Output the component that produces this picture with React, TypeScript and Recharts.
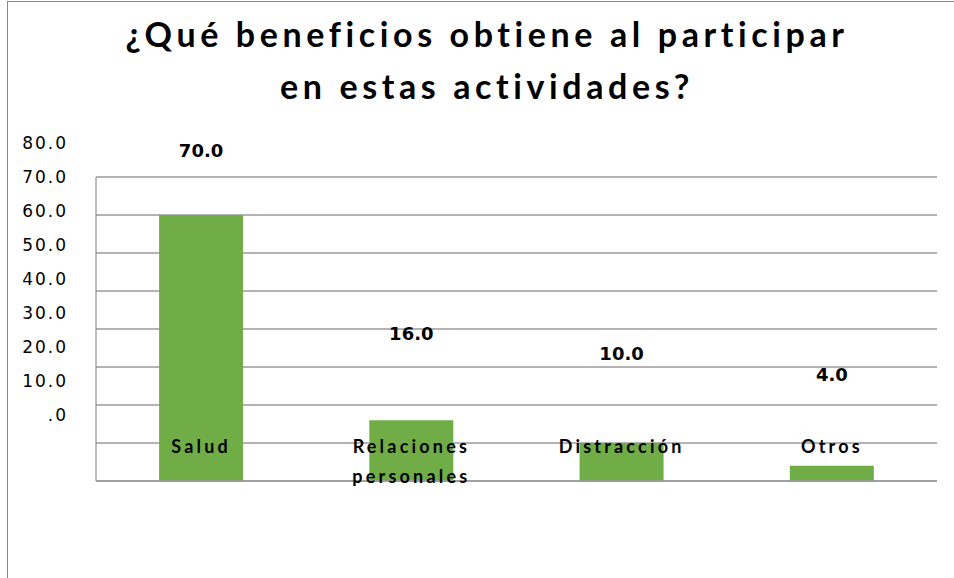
import React from "react";
import { BarChart, Bar, XAxis, YAxis, CartesianGrid, LabelList } from "recharts";

const categories = ["Salud", "Relaciones personales", "Distracción", "Otros"];
const values = [70.0, 16.0, 10.0, 4.0];
const yTicks = [0, 10, 20, 30, 40, 50, 60, 70, 80];
const titleLines = ["¿Qué beneficios obtiene al participar", "en estas actividades?"];

const data = categories.map((c, i) => ({ name: c, value: values[i] }));

const W = 954;
const H = 578;
const MARGIN = { top: 177, right: 17, bottom: 67, left: 6 };
const X_AXIS_H = 30;
const Y_AXIS_W = 90;
const PLOT_BOTTOM = H - MARGIN.bottom - X_AXIS_H;
const LABEL_SCALE = 0.894;

const fmt = (v: number) => (v === 0 ? ".0" : v.toFixed(1));

const YTick = (props: any) => {
  const { y, payload } = props;
  const ly = PLOT_BOTTOM - (PLOT_BOTTOM - y) * LABEL_SCALE - 66;
  return (
    <text
      x={68}
      y={ly}
      dy="0.355em"
      textAnchor="end"
      fontFamily="DejaVu Sans"
      fontSize={17}
      letterSpacing={2}
      fill="#000"
    >
      {fmt(payload.value)}
    </text>
  );
};

const XTick = (props: any) => {
  const { x, y, payload } = props;
  const label: string = payload.value;
  const lines = label.length > 12 ? label.split(" ") : [label];
  return (
    <g>
      {lines.map((l, i) => (
        <text
          key={i}
          x={x}
          y={y - 42 + i * 30}
          dy="0.355em"
          textAnchor="middle"
          fontFamily="Lato"
          fontWeight="bold"
          fontSize={18}
          letterSpacing={3.2}
          fill="#000"
        >
          {l}
        </text>
      ))}
    </g>
  );
};

const ValueLabel = (props: any) => {
  const { x, y, width, height, value } = props;
  const bottom = y + height;
  const ly = bottom - height * LABEL_SCALE - 93;
  return (
    <text
      x={x + width / 2}
      y={ly}
      dy="0.355em"
      textAnchor="middle"
      fontFamily="DejaVu Sans"
      fontWeight="bold"
      fontSize={18}
      fill="#000"
    >
      {Number(value).toFixed(1)}
    </text>
  );
};

export default function App() {
  return (
    <div style={{ position: "absolute", left: 0, top: 0, width: W, height: H, background: "#fff", overflow: "hidden" }}>
      <div
        style={{
          position: "absolute",
          left: 7,
          top: 1,
          width: W,
          height: H,
          borderLeft: "1.5px solid #868686",
          borderTop: "1.5px solid #868686",
        }}
      />
      <div
        style={{
          position: "absolute",
          left: 0,
          top: 8,
          width: 974,
          textAlign: "center",
          fontFamily: "Lato",
          fontWeight: "bold",
          fontSize: 34,
          lineHeight: "52px",
          letterSpacing: 4.6,
          color: "#000",
        }}
      >
        {titleLines.map((t, i) => (
          <div key={i}>{t}</div>
        ))}
      </div>
      <div style={{ position: "absolute", left: 0, top: 0 }}>
        <BarChart width={W} height={H} data={data} margin={MARGIN} barCategoryGap="30%">
          <CartesianGrid horizontal vertical={false} stroke="#9a9a9a" strokeWidth={1.3} />
          <XAxis
            dataKey="name"
            height={X_AXIS_H}
            axisLine={{ stroke: "#9a9a9a", strokeWidth: 1.3 }}
            tickLine={false}
            tick={<XTick />}
            interval={0}
          />
          <YAxis
            width={Y_AXIS_W}
            domain={[0, 80]}
            ticks={yTicks}
            axisLine={{ stroke: "#9a9a9a", strokeWidth: 1.3 }}
            tickLine={false}
            tick={<YTick />}
            interval={0}
          />
          <Bar dataKey="value" fill="#70AD47" isAnimationActive={false}>
            <LabelList dataKey="value" content={<ValueLabel />} />
          </Bar>
        </BarChart>
      </div>
    </div>
  );
}
